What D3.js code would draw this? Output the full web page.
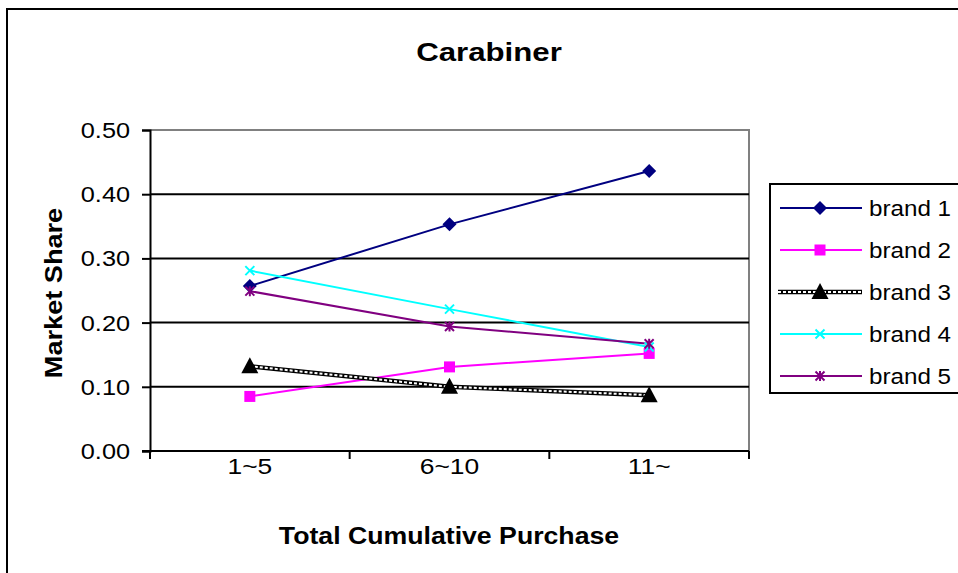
<!DOCTYPE html>
<html>
<head>
<meta charset="utf-8">
<script src="https://cdn.jsdelivr.net/npm/d3@7/dist/d3.min.js"></script>
<style>
  html, body { margin: 0; padding: 0; background: #fff; }
  svg { display: block; font-family: "Liberation Sans", Arial, sans-serif; }
</style>
</head>
<body>
<svg id="chart" width="958" height="573"></svg>
<script>
// Purchase buckets and market share per brand
const categories = ["1~5", "6~10", "11~"];
const brand1 = [0.257, 0.353, 0.436];
const brand2 = [0.085, 0.131, 0.152];
const brand3 = [0.132, 0.100, 0.087];
const brand4 = [0.281, 0.221, 0.162];
const brand5 = [0.249, 0.194, 0.167];
const yTicks = [0, 0.1, 0.2, 0.3, 0.4, 0.5];
const seriesNames = ["brand 1", "brand 2", "brand 3", "brand 4", "brand 5"];

const series = [
  { name: seriesNames[0], values: brand1, color: "#000080", marker: "diamond" },
  { name: seriesNames[1], values: brand2, color: "#ff00ff", marker: "square" },
  { name: seriesNames[2], values: brand3, color: "#000000", marker: "triangle", pattern: true },
  { name: seriesNames[3], values: brand4, color: "#00ffff", marker: "x" },
  { name: seriesNames[4], values: brand5, color: "#800080", marker: "star" }
];

const svg = d3.select("#chart");
const plot = { left: 150, right: 749, top: 130, bottom: 451 };

// Text helper: slightly widened glyphs, like the spreadsheet renderer
function addText(g, x, y, str, size, opts = {}) {
  const sx = opts.sx || 1.15;
  const rot = opts.rotate ? ` rotate(${opts.rotate})` : "";
  return g.append("text")
    .attr("transform", `translate(${x},${y})${rot} scale(${sx},1)`)
    .attr("text-anchor", opts.anchor || "start")
    .attr("font-size", size)
    .attr("font-weight", opts.bold ? "bold" : "normal")
    .attr("fill", "#000")
    .text(str);
}

// Outer chart frame (runs past the right/bottom edges)
svg.append("rect")
  .attr("x", 7).attr("y", 9).attr("width", 1000).attr("height", 600)
  .attr("fill", "none").attr("stroke", "#000").attr("stroke-width", 2);

const x = d3.scaleBand().domain(categories).range([plot.left, plot.right]);
const y = d3.scaleLinear().domain([0, 0.5]).range([plot.bottom, plot.top]);
const cx = c => x(c) + x.bandwidth() / 2;

// Plot area border (grey top/right)
svg.append("path")
  .attr("d", `M${plot.left},${plot.top}H${plot.right}V${plot.bottom}`)
  .attr("fill", "none").attr("stroke", "#808080").attr("stroke-width", 2);

// Horizontal gridlines
svg.append("g").selectAll("line")
  .data(yTicks.filter(t => t > 0 && t < 0.5))
  .join("line")
  .attr("x1", plot.left).attr("x2", plot.right)
  .attr("y1", d => y(d)).attr("y2", d => y(d))
  .attr("stroke", "#000").attr("stroke-width", 2);

// Y axis (ticks from the scale, labels drawn with the text helper)
const yAxis = svg.append("g")
  .attr("transform", `translate(${plot.left},0)`)
  .call(d3.axisLeft(y).tickValues(yTicks).tickFormat(() => "").tickSizeOuter(0).tickSize(8));
yAxis.select(".domain").attr("stroke", "#000").attr("stroke-width", 2);
yAxis.selectAll(".tick line").attr("stroke", "#000").attr("stroke-width", 2);
const yLabels = svg.append("g");
const fmt = d3.format(".2f");
yTicks.forEach(t => addText(yLabels, 130, y(t) + 8, fmt(t), 22, { anchor: "end" }));

// X axis: ticks at band boundaries
const xAxis = svg.append("g").attr("transform", `translate(0,${plot.bottom})`);
xAxis.append("line")
  .attr("x1", plot.left - 8).attr("x2", plot.right)
  .attr("stroke", "#000").attr("stroke-width", 2);
const bounds = categories.map(c => x(c)).concat([plot.right]);
xAxis.selectAll("line.tk").data(bounds).join("line").attr("class", "tk")
  .attr("x1", d => d).attr("x2", d => d).attr("y1", 0).attr("y2", 8)
  .attr("stroke", "#000").attr("stroke-width", 2);
categories.forEach(c => addText(xAxis, cx(c), 23, c, 22, { anchor: "middle", sx: 1.2 }));

// Titles
addText(svg, 489, 61, "Carabiner", 26, { anchor: "middle", bold: true, sx: 1.2 });
addText(svg, 449, 544, "Total Cumulative Purchase", 23, { anchor: "middle", bold: true, sx: 1.16 });
addText(svg, 62, 293, "Market Share", 23, { anchor: "middle", bold: true, rotate: -90, sx: 1.18 });

// Marker drawing
function drawMarker(g, type, color, px, py) {
  if (type === "diamond") {
    g.append("path").attr("d", `M${px},${py-7}L${px+7},${py}L${px},${py+7}L${px-7},${py}Z`)
      .attr("fill", color);
  } else if (type === "square") {
    g.append("rect").attr("x", px - 5.5).attr("y", py - 5.5).attr("width", 11).attr("height", 11)
      .attr("fill", color);
  } else if (type === "triangle") {
    g.append("path").attr("d", `M${px},${py-9}L${px+8.5},${py+7}L${px-8.5},${py+7}Z`)
      .attr("fill", color);
  } else if (type === "x") {
    g.append("path").attr("d", `M${px-4.5},${py-4.5}L${px+4.5},${py+4.5}M${px+4.5},${py-4.5}L${px-4.5},${py+4.5}`)
      .attr("stroke", color).attr("stroke-width", 2);
  } else if (type === "star") {
    g.append("path").attr("d", `M${px-4.5},${py-4.5}L${px+4.5},${py+4.5}M${px+4.5},${py-4.5}L${px-4.5},${py+4.5}M${px},${py-5}L${px},${py+5}`)
      .attr("stroke", color).attr("stroke-width", 2);
  }
}

// Black line with white dashes running through it
function drawPatternLine(g, d) {
  g.append("path").attr("d", d).attr("fill", "none")
    .attr("stroke", "#000").attr("stroke-width", 4.5);
  g.append("path").attr("d", d).attr("fill", "none")
    .attr("stroke", "#fff").attr("stroke-width", 2).attr("stroke-dasharray", "3,2");
}

const line = d3.line().x((d, i) => cx(categories[i])).y(d => y(d));
const linesG = svg.append("g");
series.forEach(s => {
  const d = line(s.values);
  if (s.pattern) drawPatternLine(linesG, d);
  else linesG.append("path").attr("d", d).attr("fill", "none")
    .attr("stroke", s.color).attr("stroke-width", 2);
});
series.forEach(s => {
  const g = svg.append("g");
  s.values.forEach((v, i) => drawMarker(g, s.marker, s.color, cx(categories[i]), y(v)));
});

// Legend
const legend = svg.append("g");
legend.append("rect").attr("x", 770).attr("y", 184).attr("width", 240).attr("height", 209)
  .attr("fill", "#fff").attr("stroke", "#000").attr("stroke-width", 2);
series.forEach((s, i) => {
  const ly = 208 + i * 42;
  const g = legend.append("g");
  if (s.pattern) drawPatternLine(g, `M778,${ly}H862`);
  else g.append("line").attr("x1", 780).attr("x2", 862).attr("y1", ly).attr("y2", ly)
    .attr("stroke", s.color).attr("stroke-width", 2);
  drawMarker(g, s.marker, s.color, 820, ly);
  addText(g, 869, ly + 8, s.name, 22, { sx: 1.1 });
});
</script>
</body>
</html>
